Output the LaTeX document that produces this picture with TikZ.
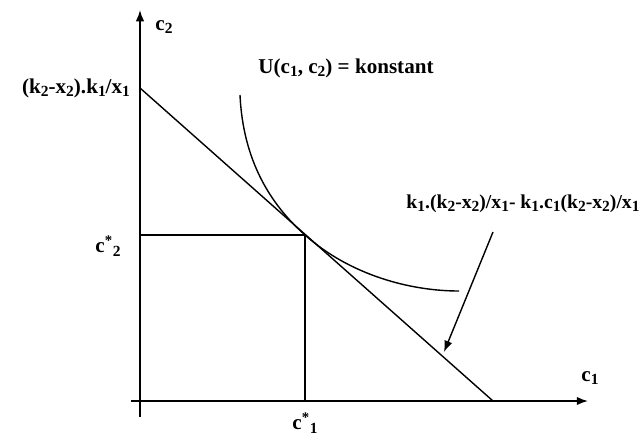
\documentclass[tikz,border=0pt]{standalone}
\usepackage{fontspec}
\setmainfont{Liberation Serif}
\usepackage{tikz}
\usetikzlibrary{arrows.meta,positioning}
\newcommand\lo[1]{\raisebox{-0.35ex}{\fontsize{11}{11}\selectfont #1}}

\begin{document}
\begin{tikzpicture}[x=0.025cm,y=-0.025cm,
  lbl/.style={font=\fontsize{15}{17}\selectfont\bfseries,inner sep=1pt},
  axis/.style={line width=1.1pt,-{Latex[length=8pt,width=6pt]}},
  curve/.style={line width=1pt}]
\useasboundingbox (0,0) rectangle (643,435);
% axes
\coordinate (O) at (140,401);
\coordinate (ytop) at (140,10);
\coordinate (xend) at (588,401);
\draw[axis] (140,417)--(ytop);
\draw[axis] (131,401)--(xend);
% budget line and optimum
\coordinate (B) at (140,88);
\coordinate (A) at (493,401);
\coordinate (E) at (305,235);
\draw[curve] (B)--(A);
\draw[curve,line width=0.8pt] (O |- E)--(E)--(E |- O);
% indifference curve
\draw[curve] (240,95) .. controls (243,160) and (270,204) .. (E)
  .. controls (350,275) and (410,291) .. (459,291);
% labels
\node[lbl] (c2) at (164,27) {c\lo{2}};
\node[lbl] (c1) at (590,378) {c\lo{1}};
\node[lbl,left=6pt of B] (int) {(k\lo{2}-x\lo{2}).k\lo{1}/x\lo{1}};
\node[lbl] (cs2) at (108,246) {c\textsuperscript{*}\lo{2}};
\node[lbl] (cs1) at (305,423) {c\textsuperscript{*}\lo{1}};
\node[lbl] (util) at (346,68) {U(c\lo{1}, c\lo{2}) = konstant};
\node[lbl,font=\fontsize{14}{16}\selectfont\bfseries] (bud) at (523,204) {k\lo{1}.(k\lo{2}-x\lo{2})/x\lo{1}- k\lo{1}.c\lo{1}(k\lo{2}-x\lo{2})/x\lo{1}};
\coordinate (from) at (493,232);
\coordinate (tip) at (444,352);
\draw[line width=1pt,-{Latex[length=8pt,width=6pt]}] (from)--(tip);
\end{tikzpicture}
\end{document}
